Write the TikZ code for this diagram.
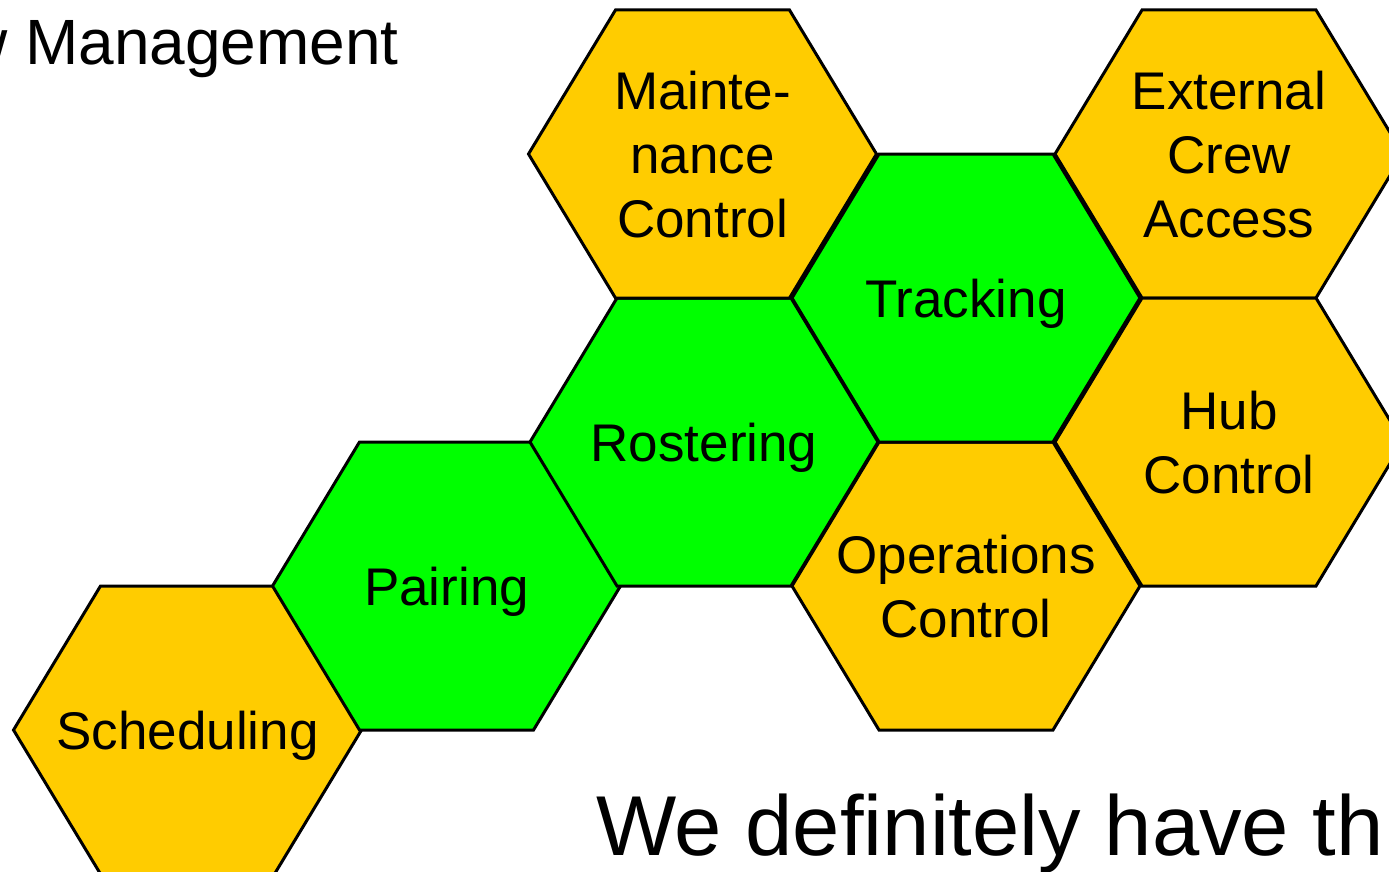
\documentclass[tikz,border=0pt]{standalone}
\usepackage{fontspec}
\setmainfont{Liberation Sans}
\definecolor{hexorange}{HTML}{FFCC00}
\definecolor{hexgreen}{HTML}{00FF00}
\tikzset{
  hexline/.style={draw=black, line width=3pt, line join=miter},
  hexlabel/.style={align=center, inner sep=0pt, text depth=0pt,
    font=\fontsize{53}{64}\selectfont},
}
% name, x, y, fill colour, label
\newcommand\hexcell[5]{%
  \draw[hexline, fill=#4] (#2-174,#3) -- (#2-87,#3-144) -- (#2+87,#3-144)
    -- (#2+174,#3) -- (#2+87,#3+144) -- (#2-87,#3+144) -- cycle;
  \node[hexlabel] (#1) at (#2,#3) {#5};%
}
\begin{document}
\begin{tikzpicture}[x=1pt,y=-1pt]
\useasboundingbox (0,0) rectangle (1389,872);
\hexcell{sched}{187.5}{730}{hexorange}{Scheduling}
\hexcell{pair}{446.5}{586}{hexgreen}{Pairing}
\hexcell{roster}{704}{442}{hexgreen}{Rostering}
\hexcell{maint}{702.5}{154}{hexorange}{Mainte-\\nance\\Control}
\hexcell{ops}{966}{586}{hexorange}{Operations\\Control}
\hexcell{track}{966}{298}{hexgreen}{Tracking}
\hexcell{ext}{1229}{154}{hexorange}{External\\Crew\\Access}
\hexcell{hub}{1229}{442}{hexorange}{Hub\\Control}
\node[anchor=base east, inner sep=0pt, font=\fontsize{64}{64}\selectfont]
  (title) at (399,65) {Crew Management};
\node[anchor=base west, inner sep=0pt, font=\fontsize{85}{85}\selectfont]
  (slogan) at (596,855) {We definitely have th};
\end{tikzpicture}
\end{document}
